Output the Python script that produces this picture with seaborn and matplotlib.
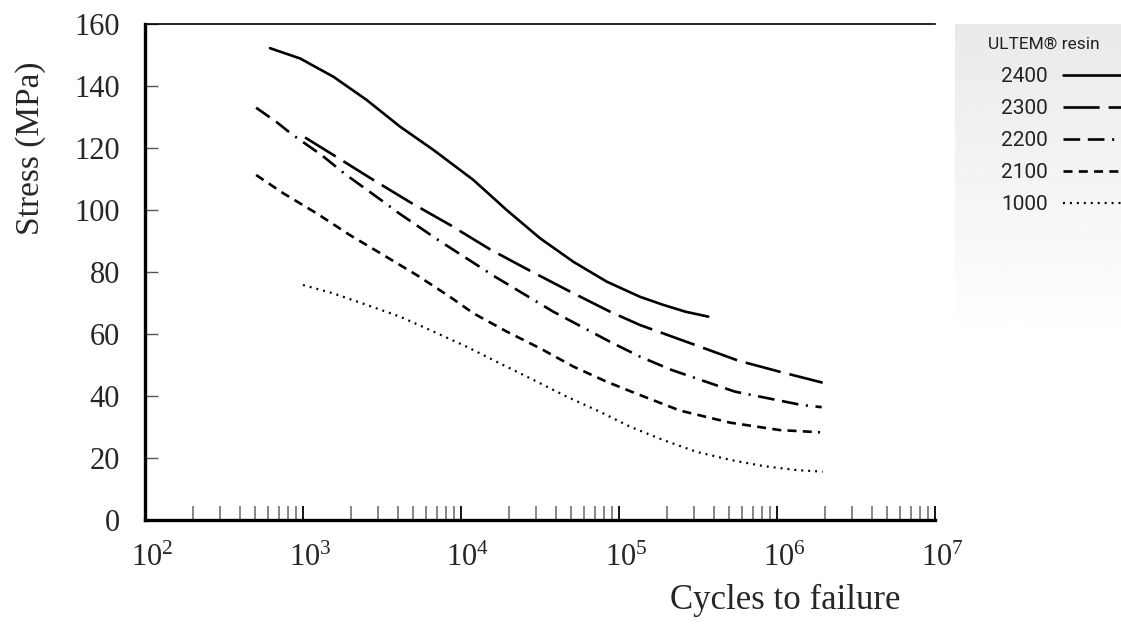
import numpy as np
import pandas as pd
import matplotlib
matplotlib.use("Agg")
import matplotlib.pyplot as plt
import seaborn as sns
from matplotlib.transforms import ScaledTranslation

# ---------------- data ----------------
grades = ["2400", "2300", "2200", "2100", "1000"]

cycles_2400 = [618, 957, 1556, 2529, 4111, 6683, 11970, 19450, 31620, 51400, 83560,
               135800, 190500, 263000, 367300]
stress_2400 = [152.2, 148.9, 143.0, 135.5, 126.9, 119.4, 109.7, 100.0, 90.9, 83.3, 76.9,
               72.0, 69.4, 67.2, 65.6]

cycles_2300 = [1030, 1596, 2786, 4875, 8511, 15280, 27350, 48980, 87700, 135800,
               302000, 568900, 1045000, 1945000]
stress_2300 = [123.4, 117.4, 109.7, 102.2, 95.2, 87.3, 80.4, 73.7, 67.2, 62.9,
               56.5, 51.4, 47.8, 44.3]

cycles_2200 = [505, 675, 847, 1312, 1845, 3221, 4009, 7178, 16410, 38370, 89950,
               135800, 215300, 542000, 1432000, 1919000]
stress_2200 = [133.0, 128.5, 124.5, 117.7, 111.6, 102.7, 99.1, 90.3, 78.5, 67.2, 57.2,
               52.7, 48.4, 41.4, 37.1, 36.4]

cycles_2100 = [505, 750, 1222, 1982, 3221, 5248, 8511, 11970, 19450, 31620, 51400,
               83560, 135800, 243200, 504700, 1045000, 1871000]
stress_2100 = [111.3, 105.4, 98.9, 91.9, 85.5, 79.0, 72.0, 66.7, 60.8, 55.4, 49.5,
               44.6, 40.3, 35.3, 31.4, 29.0, 28.3]

cycles_1000 = [1000, 1556, 2529, 4111, 6683, 10860, 17660, 28710, 46670, 75860,
               117500, 190500, 309000, 504700, 818500, 1330000, 1945000]
stress_1000 = [75.8, 73.1, 69.4, 65.6, 60.8, 55.9, 50.5, 45.2, 39.8, 34.9,
               30.1, 25.8, 22.0, 19.4, 17.4, 16.1, 15.6]

x_tick_values = [1e2, 1e3, 1e4, 1e5, 1e6, 1e7]
x_tick_labels = [r"$10^{2}$", r"$10^{3}$", r"$10^{4}$", r"$10^{5}$", r"$10^{6}$", r"$10^{7}$"]
y_tick_values = [0, 20, 40, 60, 80, 100, 120, 140, 160]

series = {
    "2400": (cycles_2400, stress_2400),
    "2300": (cycles_2300, stress_2300),
    "2200": (cycles_2200, stress_2200),
    "2100": (cycles_2100, stress_2100),
    "1000": (cycles_1000, stress_1000),
}

# ---------------- styles ----------------
line_styles = {
    "2400": (1.9, "-"),
    "2300": (1.9, (0, (26, 6.5))),
    "2200": (1.9, (0, (12, 5.5, 12, 5.5, 1.5, 5.5))),
    "2100": (1.9, (0, (6.5, 4.5))),
    "1000": (1.6, (0, (1.4, 3.6))),
}

sns.set_theme(style="white")
plt.rcParams.update({
    "font.family": ["Liberation Serif", "DejaVu Serif"],
    "mathtext.fontset": "custom",
    "mathtext.rm": "Liberation Serif",
    "mathtext.it": "Liberation Serif:italic",
    "mathtext.bf": "Liberation Serif:bold",
    "lines.scale_dashes": False,
})

W, H = 1121, 627
fig = plt.figure(figsize=(W / 100, H / 100), dpi=100)
fig.patch.set_facecolor("white")

# axes: left 145px, right 935px, top 24px, bottom 520px
ax = fig.add_axes([145 / W, (H - 520) / H, 790 / W, 496 / H])
ax.set_facecolor("white")

for g in grades:
    cyc, st = series[g]
    lw, ls = line_styles[g]
    df = pd.DataFrame({"cycles": cyc, "stress": st})
    sns.lineplot(data=df, x="cycles", y="stress", ax=ax, color="black",
                 linewidth=lw, linestyle=ls, label=g, estimator=None, sort=False)

for line, g in zip(ax.get_lines(), grades):
    lw, ls = line_styles[g]
    line.set_linestyle(ls)
    line.set_linewidth(lw)
    line.set_dash_capstyle("butt")
    line.set_solid_joinstyle("round")

ax.set_xscale("log")
ax.set_xlim(1e2, 1e7)
ax.set_ylim(0, 160)

ax.set_xticks(x_tick_values)
ax.set_xticklabels(x_tick_labels, fontsize=22)
ax.xaxis.set_minor_locator(matplotlib.ticker.LogLocator(base=10, subs=np.arange(2, 10)))
ax.xaxis.set_minor_formatter(matplotlib.ticker.NullFormatter())
ax.set_yticks(y_tick_values)
ax.set_yticklabels([str(v) for v in y_tick_values], fontsize=22)

ax.tick_params(axis="x", which="major", direction="in", length=10, width=1.3,
               color="black", pad=17, bottom=True, top=False)
ax.tick_params(axis="x", which="minor", direction="in", length=10, width=1.1,
               color="#666666", bottom=True, top=False)
ax.tick_params(axis="y", which="major", direction="in", length=9, width=1.0,
               color="#555555", pad=18, left=True, right=False)

for side in ["left", "bottom"]:
    ax.spines[side].set_visible(True)
    ax.spines[side].set_linewidth(2.4)
    ax.spines[side].set_color("black")
ax.spines["top"].set_visible(True)
ax.spines["top"].set_linewidth(1.2)
ax.spines["top"].set_color("black")
ax.spines["right"].set_visible(False)

ax.set_xlabel("Cycles to failure", fontsize=25)
ax.xaxis.set_label_coords((785 - 145) / 790, (520 - 584) / 496)
ax.set_ylabel("Stress (MPa)", fontsize=24)
ax.yaxis.set_label_coords((46 - 145) / 790, (520 - 148) / 496)

handles, labels = ax.get_legend_handles_labels()
if ax.get_legend() is not None:
    ax.get_legend().remove()

# legend panel with gradient background
lax = fig.add_axes([955 / W, (H - 325) / H, (W - 955 + 5) / W, 301 / H])
grad = np.linspace(0.915, 0.995, 256)[:, None]
lax.imshow(grad, cmap="gray", vmin=0, vmax=1, aspect="auto",
           extent=[0, 1, 0, 1], origin="upper", interpolation="bilinear")
lax.set_xlim(0, 1)
lax.set_ylim(0, 1)
lax.axis("off")

leg = lax.legend(handles, labels, loc="upper left",
                 bbox_to_anchor=(1001 / W, 1 - 67 / H), bbox_transform=fig.transFigure,
                 frameon=False, markerfirst=False, handlelength=4.5, handletextpad=0.75,
                 labelspacing=0.63, borderaxespad=0, borderpad=0,
                 prop={"family": "Roboto", "size": 15})
for txt in leg.get_texts():
    txt.set_color("#222222")

fig.text(988 / W, 1 - 44 / H, "ULTEM® resin", fontfamily="Roboto", fontsize=12.5,
         color="#222222", ha="left", va="center")

# shift x tick labels so the "10" sits centred on the tick
offset = ScaledTranslation(0.07, 0, fig.dpi_scale_trans)
for lbl in ax.get_xticklabels():
    lbl.set_transform(lbl.get_transform() + offset)

fig.savefig("out.png", dpi=100, facecolor="white")
